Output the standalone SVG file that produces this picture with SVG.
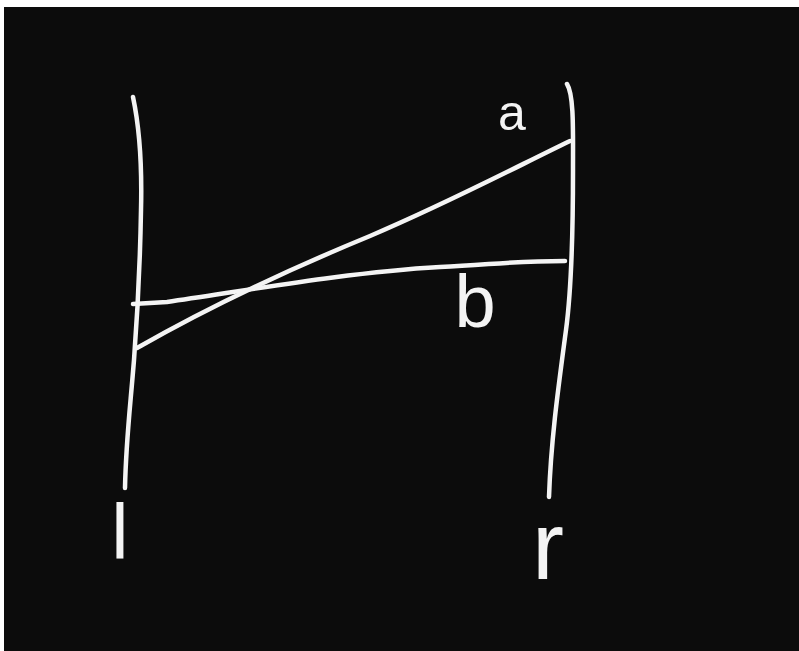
<svg xmlns="http://www.w3.org/2000/svg" width="799" height="651" viewBox="0 0 799 651">
<style>
.s{fill:none;stroke:#f4f4f4;stroke-width:4.5;stroke-linecap:round;stroke-linejoin:round}
.t{fill:#f4f4f4;font-family:"Liberation Sans",Arial,sans-serif;text-anchor:middle}
</style>
<rect x="0" y="0" width="799" height="651" fill="#ffffff"/>
<rect x="4" y="7" width="795" height="644" fill="#0c0c0c"/>
<g id="left">
<path class="s" d="M133,97 C140,130 142,170 141,210 C140,270 137,320 134,360 C130,410 126,440 125,488"/>
<text class="t" x="120" y="559" font-size="78">l</text>
</g>
<g id="right">
<path class="s" d="M567,84 C574,95 573,130 573,170 C573,250 570,300 566,330 C558,390 551,440 549,497"/>
<text class="t" x="548" y="579" font-size="96">r</text>
</g>
<g id="connectors">
<path class="s" d="M137,348 C200,312 280,273 370,236 C450,202 520,165 570,141"/>
<path class="s" d="M133,304 L167,302 C250,290 350,272 440,267 C490,265 510,261 565,261"/>
<text class="t" x="512" y="130" font-size="50">a</text>
<text class="t" x="475" y="327" font-size="74">b</text>
</g>
</svg>
